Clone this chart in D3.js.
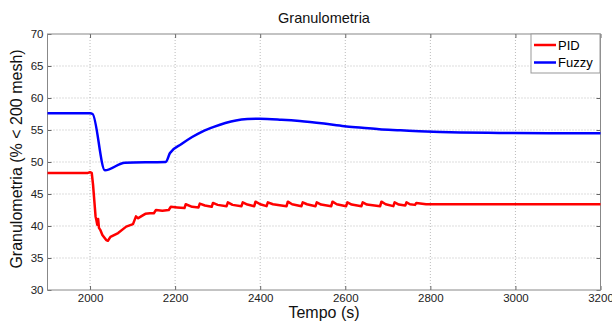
<!DOCTYPE html>
<html><head><meta charset="utf-8">
<script src="https://cdn.jsdelivr.net/npm/d3@7"></script>
<style>body{margin:0;background:#fff}svg{display:block}text{font-family:Arial,"Liberation Sans",sans-serif}</style>
</head><body><svg id="c" width="612" height="323"></svg>
<script>
const fuzzyT = [1900,2000,2006,2035,2082,2178,2188,2215,2240,2265,2291,2318,2343,2370,2399,2450,2493,2550,2598,2640,2680,2730,2774,2870,2962,3080,3200];
const fuzzyV = [57.6,57.6,57.5,48.7,49.9,50.0,51.4,52.8,53.9,54.8,55.5,56.1,56.5,56.7,56.75,56.6,56.4,56.0,55.6,55.35,55.1,54.95,54.8,54.6,54.55,54.5,54.5];

const pidT = [1900,1995,2000,2004,2007,2010,2013,2015,2017,2019,2021,2024,2029,2038,2042,2048,2066,2085,2101,2108,2113,2120,2130,2141,2150,2155,2170,2185,2190,2205,2222,2225,2240,2255,2258,2270,2286,2289,2300,2321,2324,2335,2356,2359,2370,2386,2389,2400,2415,2418,2430,2462,2465,2475,2497,2500,2510,2530,2533,2543,2567,2570,2580,2602,2605,2615,2638,2641,2651,2682,2685,2695,2713,2716,2726,2741,2744,2752,2764,2767,2790,2828,3200];
const pidV = [48.3,48.3,48.4,48.3,46.5,44.0,41.5,40.9,40.2,41.1,39.7,39.4,38.6,37.8,37.7,38.3,38.9,39.9,40.3,41.5,41.2,41.5,41.9,42.0,42.0,42.5,42.4,42.5,43.0,42.9,42.8,43.4,43.0,42.9,43.5,43.2,43.0,43.6,43.3,43.1,43.7,43.3,43.1,43.7,43.35,43.1,43.8,43.4,43.1,43.7,43.4,43.1,43.8,43.4,43.1,43.7,43.4,43.1,43.7,43.35,43.1,43.8,43.4,43.1,43.7,43.35,43.1,43.7,43.35,43.1,43.8,43.4,43.1,43.7,43.35,43.2,43.7,43.4,43.3,43.6,43.4,43.4,43.4];

const xTicks = [2000,2200,2400,2600,2800,3000,3200];
const yTicks = [30,35,40,45,50,55,60,65,70];
const seriesNames = ["PID","Fuzzy"];
const seriesColors = ["#ff0000","#0000ff"];

const svg = d3.select("#c");
const L=47.5, R=600.5, T=34, B=290;
const x = d3.scaleLinear().domain([1900,3200]).range([L,R]);
const y = d3.scaleLinear().domain([30,70]).range([B,T]);

// grid
const g = svg.append("g");
g.selectAll("line.gx").data(xTicks.filter(d=>d<3200)).join("line")
 .attr("x1",d=>x(d)).attr("x2",d=>x(d)).attr("y1",T).attr("y2",B)
 .attr("stroke","#aaa").attr("stroke-width",0.8).attr("stroke-dasharray","1,2");
g.selectAll("line.gy").data(yTicks.filter(d=>d>30&&d<70)).join("line")
 .attr("x1",L).attr("x2",R).attr("y1",d=>y(d)).attr("y2",d=>y(d))
 .attr("stroke","#aaa").attr("stroke-width",0.8).attr("stroke-dasharray","1,2");

// axes
svg.append("g").attr("transform",`translate(0,${B})`)
 .call(d3.axisBottom(x).tickValues(xTicks).tickSize(-4).tickPadding(4).tickFormat(d3.format("d")));
svg.append("g").attr("transform",`translate(${L},0)`)
 .call(d3.axisLeft(y).tickValues(yTicks).tickSize(-4).tickPadding(4));
svg.append("g").attr("transform",`translate(${R},0)`)
 .call(d3.axisRight(y).tickValues(yTicks).tickSize(-4).tickFormat(""));
svg.append("g").attr("transform",`translate(0,${T})`)
 .call(d3.axisTop(x).tickValues(xTicks).tickSize(-4).tickFormat(""));
svg.selectAll(".domain").remove();
svg.selectAll(".tick line").attr("stroke","#666");
svg.selectAll(".tick text").attr("font-size",11.5).attr("fill","#222").attr("font-family","Arial, Liberation Sans, sans-serif");
svg.append("rect").attr("x",L).attr("y",T).attr("width",R-L).attr("height",B-T)
 .attr("fill","none").attr("stroke","#888").attr("stroke-width",1);

// lines
const line = d3.line().x(d=>x(d[0])).y(d=>y(d[1]));
svg.append("path").datum(pidT.map((t,i)=>[t,pidV[i]]))
 .attr("d",line).attr("fill","none").attr("stroke",seriesColors[0]).attr("stroke-width",2.5).attr("stroke-linejoin","round");
svg.append("path").datum(fuzzyT.map((t,i)=>[t,fuzzyV[i]]))
 .attr("d",line.curve(d3.curveMonotoneX)).attr("fill","none").attr("stroke",seriesColors[1]).attr("stroke-width",2.5).attr("stroke-linejoin","round");

// legend
const lg = svg.append("g");
lg.append("rect").attr("x",531).attr("y",34).attr("width",69).attr("height",39)
 .attr("fill","#fff").attr("stroke","#999").attr("stroke-width",1);
seriesNames.forEach((n,i)=>{
  const yy = 45 + i*17.5;
  lg.append("line").attr("x1",534).attr("x2",556).attr("y1",yy).attr("y2",yy)
    .attr("stroke",seriesColors[i]).attr("stroke-width",2.5);
  lg.append("text").attr("x",558).attr("y",yy+4.5).attr("font-size",13).attr("fill","#000").text(n);
});

// titles
svg.append("text").attr("x",324).attr("y",23).attr("text-anchor","middle").attr("font-size",14.5).attr("fill","#111").text("Granulometria");
svg.append("text").attr("x",324).attr("y",318).attr("text-anchor","middle").attr("font-size",16).attr("fill","#111").text("Tempo (s)");
svg.append("text").attr("transform","translate(22,159) rotate(-90)").attr("text-anchor","middle").attr("font-size",16).attr("fill","#111").text("Granulometria (% < 200 mesh)");
</script></body></html>
